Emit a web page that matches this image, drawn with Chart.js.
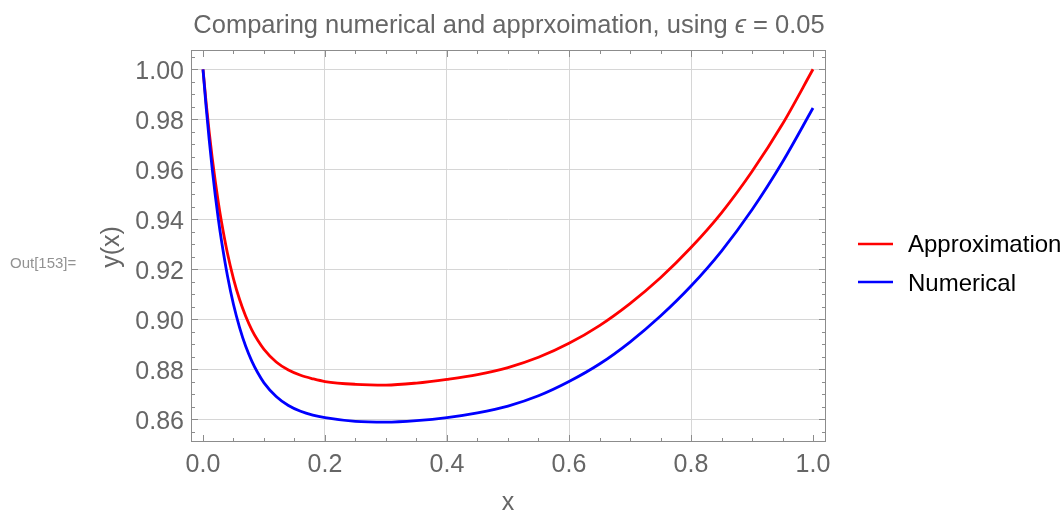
<!DOCTYPE html>
<html>
<head>
<meta charset="utf-8">
<script src="https://cdn.jsdelivr.net/npm/chart.js@4.4.1/dist/chart.umd.min.js"></script>
<style>
  html, body { margin: 0; padding: 0; background: #fff; }
</style>
</head>
<body>
<canvas id="chart" width="1063" height="514"></canvas>
<script>
// values
const xValues = [0, 0.005, 0.01, 0.015, 0.02, 0.025, 0.03, 0.04, 0.05, 0.06, 0.07, 0.08, 0.09, 0.10,
  0.12, 0.14, 0.16, 0.18, 0.20, 0.25, 0.30, 0.35, 0.40, 0.45, 0.50, 0.55, 0.60, 0.65, 0.70, 0.75,
  0.80, 0.85, 0.90, 0.95, 1.00];
const approximation = [1.0000, 0.9870, 0.9753, 0.9648, 0.9554, 0.9469, 0.9394, 0.9265, 0.9162, 0.9079,
  0.9012, 0.8958, 0.8915, 0.8880, 0.8829, 0.8797, 0.8776, 0.8762, 0.8751, 0.8740, 0.8737, 0.8745,
  0.8760, 0.8779, 0.8807, 0.8848, 0.8904, 0.8975, 0.9063, 0.9166, 0.9287, 0.9426, 0.9591, 0.9781, 1.0000];
const numerical = [1.0000, 0.9853, 0.9722, 0.9604, 0.9498, 0.9403, 0.9319, 0.9175, 0.9059, 0.8967,
  0.8892, 0.8833, 0.8785, 0.8746, 0.8691, 0.8655, 0.8632, 0.8617, 0.8607, 0.8592, 0.8589, 0.8595,
  0.8607, 0.8626, 0.8653, 0.8694, 0.8751, 0.8821, 0.8909, 0.9013, 0.9133, 0.9273, 0.9438, 0.9629, 0.9845];

const seriesNames = ['Approximation', 'Numerical'];
const seriesColors = ['#ff0000', '#0000ff'];
const xTicks = [0, 0.2, 0.4, 0.6, 0.8, 1.0];
const yTicks = [0.86, 0.88, 0.90, 0.92, 0.94, 0.96, 0.98, 1.00];

const FONT = '"Liberation Sans", Arial, sans-serif';
const GREY = '#666666';

const toPoints = (ys) => xValues.map((x, i) => ({ x: x, y: ys[i] }));

// frame, inward ticks, title, axis labels and legend
const decorations = {
  id: 'decorations',
  afterDatasetsDraw(chart) {
    const { ctx, chartArea: a, scales } = chart;
    const sx = scales.x, sy = scales.y;
    ctx.save();
    ctx.strokeStyle = '#8c8c8c';
    ctx.lineWidth = 1;
    ctx.strokeRect(a.left + 0.5, a.top + 0.5, a.right - a.left - 1, a.bottom - a.top - 1);

    ctx.beginPath();
    for (let i = 0; i <= 20; i++) {
      const px = Math.round(sx.getPixelForValue(i * 0.05)) + 0.5;
      const len = i % 4 === 0 ? 7 : 4;
      ctx.moveTo(px, a.bottom); ctx.lineTo(px, a.bottom - len);
      ctx.moveTo(px, a.top); ctx.lineTo(px, a.top + len);
    }
    for (let k = 171; k <= 201; k++) {
      const py = Math.round(sy.getPixelForValue(k * 0.005)) + 0.5;
      if (py < a.top || py > a.bottom) continue;
      const len = k % 4 === 0 ? 7 : 4;
      ctx.moveTo(a.left, py); ctx.lineTo(a.left + len, py);
      ctx.moveTo(a.right, py); ctx.lineTo(a.right - len, py);
    }
    ctx.stroke();
    ctx.restore();
  },
  afterDraw(chart) {
    const { ctx } = chart;
    ctx.save();

    // title, with an italic epsilon
    const parts = [
      ['Comparing numerical and apprxoimation, using ', 'normal'],
      ['\u03f5', 'italic'],
      [' = 0.05', 'normal']
    ];
    let total = 0;
    parts.forEach(p => {
      ctx.font = p[1] + ' 25.5px ' + FONT;
      total += ctx.measureText(p[0]).width;
    });
    let tx = 509 - total / 2;
    ctx.fillStyle = GREY;
    ctx.textBaseline = 'alphabetic';
    ctx.textAlign = 'left';
    parts.forEach(p => {
      ctx.font = p[1] + ' 25.5px ' + FONT;
      ctx.fillText(p[0], tx, 33);
      tx += ctx.measureText(p[0]).width;
    });

    // axis labels
    ctx.font = '25px ' + FONT;
    ctx.textAlign = 'center';
    ctx.fillText('x', 508, 510);
    ctx.save();
    ctx.translate(112, 247);
    ctx.rotate(-Math.PI / 2);
    ctx.textBaseline = 'middle';
    ctx.fillText('y(x)', 0, 0);
    ctx.restore();

    // notebook output label
    ctx.font = '15px ' + FONT;
    ctx.textAlign = 'left';
    ctx.fillStyle = '#929292';
    ctx.fillText('Out[153]=', 10, 268);

    // legend
    const rows = [[244, 252], [282, 291]];
    chart.data.datasets.forEach((ds, i) => {
      ctx.strokeStyle = ds.borderColor;
      ctx.lineWidth = 2.6;
      ctx.beginPath();
      ctx.moveTo(858, rows[i][0]);
      ctx.lineTo(893, rows[i][0]);
      ctx.stroke();
      ctx.fillStyle = '#000';
      ctx.font = '24px ' + FONT;
      ctx.fillText(ds.label, 908, rows[i][1]);
    });
    ctx.restore();
  }
};

const chart = new Chart(document.getElementById('chart'), {
  type: 'line',
  data: {
    datasets: [
      {
        label: seriesNames[0],
        data: toPoints(approximation),
        borderColor: seriesColors[0],
        borderWidth: 2.8,
        pointRadius: 0,
        cubicInterpolationMode: 'monotone',
        order: 2
      },
      {
        label: seriesNames[1],
        data: toPoints(numerical),
        borderColor: seriesColors[1],
        borderWidth: 2.8,
        pointRadius: 0,
        cubicInterpolationMode: 'monotone',
        order: 1
      }
    ]
  },
  options: {
    responsive: false,
    animation: false,
    devicePixelRatio: 1,
    layout: { padding: { left: 131, right: 237, top: 50, bottom: 32 } },
    plugins: { legend: { display: false }, tooltip: { enabled: false } },
    scales: {
      x: {
        type: 'linear',
        min: -0.01967,
        max: 1.02131,
        afterBuildTicks: (s) => { s.ticks = xTicks.map(v => ({ value: v })); },
        afterFit: (s) => { s.height = 40; },
        border: { display: false },
        grid: {
          drawTicks: false,
          lineWidth: 1,
          color: (c) => (c.tick && (c.tick.value === 0 || c.tick.value === 1)) ? 'rgba(0,0,0,0)' : '#d6d6d6'
        },
        ticks: {
          autoSkip: false,
          maxRotation: 0,
          padding: 8,
          color: GREY,
          font: { family: FONT, size: 25 },
          callback: (v) => Number(v).toFixed(1)
        }
      },
      y: {
        type: 'linear',
        min: 0.85092,
        max: 1.00772,
        afterBuildTicks: (s) => { s.ticks = yTicks.map(v => ({ value: v })); },
        afterFit: (s) => { s.width = 60; },
        border: { display: false },
        grid: { drawTicks: false, lineWidth: 1, color: '#d6d6d6' },
        ticks: {
          autoSkip: false,
          padding: 7,
          labelOffset: 3,
          color: GREY,
          font: { family: FONT, size: 25 },
          callback: (v) => Number(v).toFixed(2)
        }
      }
    }
  },
  plugins: [decorations]
});
</script>
</body>
</html>
